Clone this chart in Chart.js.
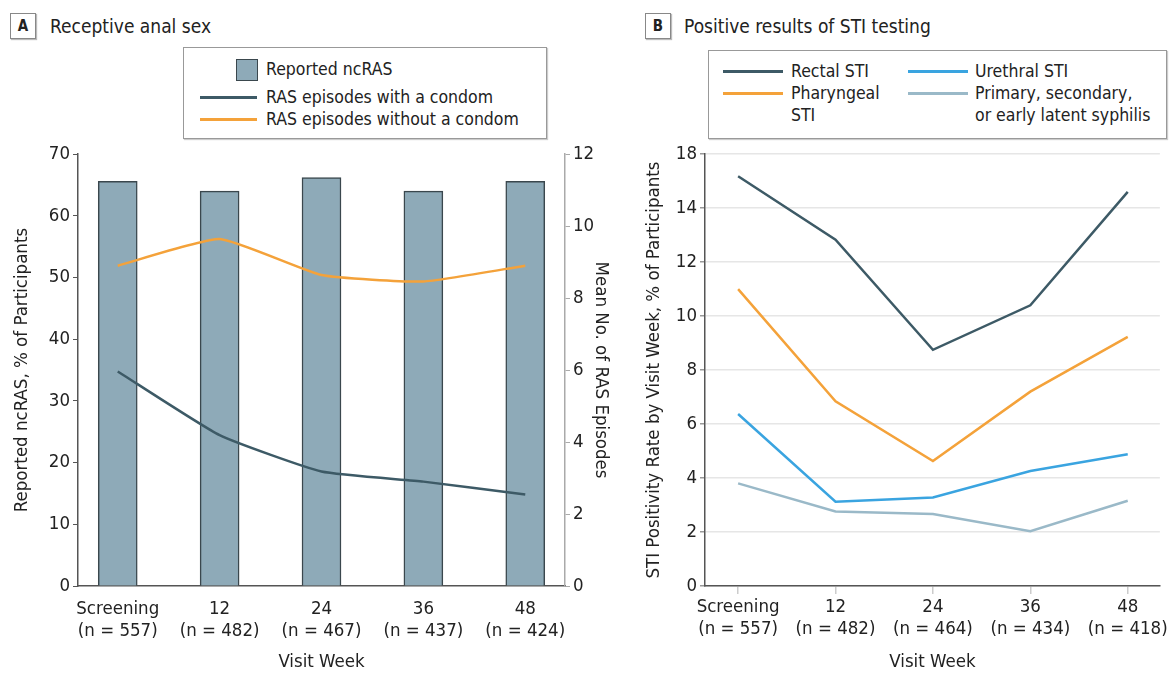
<!DOCTYPE html>
<html>
<head>
<meta charset="utf-8">
<script src="https://cdn.jsdelivr.net/npm/chart.js"></script>
<style>
  body { margin: 0; background: #fff; width: 1170px; height: 675px; overflow: hidden; position: relative;
         font-family: "Liberation Sans Narrow", "DejaVu Sans Condensed", sans-serif; color: #222; }
  .tag { position: absolute; width: 24px; height: 24px; border: 1px solid #888; box-shadow: 1px 1px 1px #bbb;
         font-weight: bold; font-size: 15px; text-align: center; line-height: 24px; }
  .title { position: absolute; font-size: 19px; line-height: 24px; }
  .legend { position: absolute; border: 1px solid #999; box-shadow: 1px 1px 1px #ccc; font-size: 17.5px; }
  .item { position: absolute; line-height: 22px; white-space: nowrap; }
  .ln { position: absolute; height: 3px; }
  .sw { position: absolute; width: 22px; height: 22px; background: #8eaab8; border: 1.5px solid #3a474d; box-sizing: border-box; }
  canvas { position: absolute; }
</style>
</head>
<body>
<div class="tag" style="left:10px;top:13px;">A</div>
<div class="title" style="left:50px;top:14px;">Receptive anal sex</div>
<div class="legend" style="left:183px;top:47px;width:362px;height:90px;">
  <div class="sw" style="left:52px;top:11px;"></div>
  <div class="item" style="left:82px;top:10px;">Reported ncRAS</div>
  <div class="ln" style="left:16px;top:48px;width:57px;background:#3d5a66;"></div>
  <div class="item" style="left:82px;top:38px;">RAS episodes with a condom</div>
  <div class="ln" style="left:16px;top:70px;width:57px;background:#f4a23a;"></div>
  <div class="item" style="left:82px;top:60px;">RAS episodes without a condom</div>
</div>

<div class="tag" style="left:645px;top:13px;">B</div>
<div class="title" style="left:684px;top:14px;">Positive results of STI testing</div>
<div class="legend" style="left:708px;top:50px;width:457px;height:87px;">
  <div class="ln" style="left:14px;top:19px;width:60px;background:#3d5a66;"></div>
  <div class="item" style="left:82px;top:9px;">Rectal STI</div>
  <div class="ln" style="left:14px;top:41px;width:60px;background:#f4a23a;"></div>
  <div class="item" style="left:82px;top:31px;">Pharyngeal<br>STI</div>
  <div class="ln" style="left:199px;top:19px;width:60px;background:#3aa4e0;"></div>
  <div class="item" style="left:266px;top:9px;">Urethral STI</div>
  <div class="ln" style="left:199px;top:41px;width:60px;background:#9ab9c8;"></div>
  <div class="item" style="left:266px;top:31px;">Primary, secondary,<br>or early latent syphilis</div>
</div>

<canvas id="chartA" style="left:8px;top:140px;" width="607" height="535"></canvas>
<canvas id="chartB" style="left:640px;top:140px;" width="530" height="535"></canvas>

<script>
// visit weeks and sample sizes
var weeks = ["Screening", "12", "24", "36", "48"];
var nA = ["(n = 557)", "(n = 482)", "(n = 467)", "(n = 437)", "(n = 424)"];
var nB = ["(n = 557)", "(n = 482)", "(n = 464)", "(n = 434)", "(n = 418)"];

// panel A
var ncRAS = [65.6, 64.0, 66.2, 64.0, 65.6];          // % of participants
var rasWithCondom = [5.96, 4.19, 3.18, 2.9, 2.54];     // mean no. of episodes
var rasWithoutCondom = [8.9, 9.64, 8.64, 8.46, 8.9];

// panel B (% positive)
var rectal = [15.18, 12.83, 8.75, 10.4, 14.6];
var pharyngeal = [11.0, 6.84, 4.63, 7.2, 9.23];
var urethral = [6.37, 3.12, 3.28, 4.26, 4.88];
var syphilis = [3.8, 2.76, 2.67, 2.03, 3.16];
var yLabelsB = ["0", "2", "4", "6", "8", "10", "12", "14", "18"];

var FONT = "'Liberation Sans Narrow', 'DejaVu Sans Condensed', sans-serif";
var INK = "#222";
var TS = 18.5;

function pts(arr) {
    return arr.map(function (v, i) { return { x: i, y: v }; });
}
function fixTicks(scale) {
    scale.ticks = weeks.map(function (w, i) { return { value: i }; });
}

Chart.defaults.font.family = FONT;
Chart.defaults.color = INK;
Chart.defaults.animation = false;

new Chart(document.getElementById("chartA").getContext("2d"), {
    type: "bar",
    data: {
        datasets: [
            {
                type: "line", label: "RAS episodes with a condom", data: pts(rasWithCondom), yAxisID: "y1",
                borderColor: "#3d5a66", borderWidth: 2.5, pointRadius: 0, tension: 0.15, order: 1
            },
            {
                type: "line", label: "RAS episodes without a condom", data: pts(rasWithoutCondom), yAxisID: "y1",
                borderColor: "#f4a23a", borderWidth: 2.5, pointRadius: 0, tension: 0.15, order: 1
            },
            {
                label: "Reported ncRAS", data: pts(ncRAS), yAxisID: "y",
                backgroundColor: "#8eaab8", borderColor: "#3a474d", borderWidth: 1.5, borderSkipped: "bottom",
                barThickness: 39, order: 2
            }
        ]
    },
    options: {
        responsive: false,
        layout: { padding: { top: 11 } },
        plugins: { legend: { display: false }, tooltip: { enabled: false } },
        scales: {
            x: {
                type: "linear", min: -0.39, max: 4.39, offset: false,
                afterBuildTicks: fixTicks,
                afterFit: function (s) { s.height = 89; },
                grid: { display: false },
                border: { display: true, color: "#555", width: 1.5 },
                ticks: {
                    font: { size: TS }, padding: 4, maxRotation: 0, autoSkip: false,
                    callback: function (v) { return [weeks[v], nA[v]]; }
                },
                title: { display: true, text: "Visit Week", font: { size: TS }, padding: { top: 4, bottom: 2 } }
            },
            y: {
                position: "left", min: 0, max: 70,
                afterFit: function (s) { s.width = 70; },
                ticks: { stepSize: 10, font: { size: TS }, padding: 3 },
                grid: { display: true, drawOnChartArea: false, tickLength: 5, color: "#555", lineWidth: 1 },
                border: { display: true, color: "#555", width: 1.5 },
                title: { display: true, text: "Reported ncRAS, % of Participants", font: { size: TS }, padding: { top: 3, bottom: 4 } }
            },
            y1: {
                position: "right", min: 0, max: 12,
                afterFit: function (s) { s.width = 607 - 557; },
                ticks: { stepSize: 2, font: { size: TS }, padding: 3 },
                grid: { display: true, drawOnChartArea: false, tickLength: 5, color: "#aaa", lineWidth: 1 },
                border: { display: true, color: "#aaa", width: 1.5 },
                title: { display: true, text: "Mean No. of RAS Episodes", font: { size: TS }, padding: { top: 3, bottom: 4 } }
            }
        }
    }
});

new Chart(document.getElementById("chartB").getContext("2d"), {
    type: "line",
    data: {
        datasets: [
            { label: "Rectal STI", data: pts(rectal), borderColor: "#3d5a66" },
            { label: "Pharyngeal STI", data: pts(pharyngeal), borderColor: "#f4a23a" },
            { label: "Urethral STI", data: pts(urethral), borderColor: "#3aa4e0" },
            { label: "Primary, secondary, or early latent syphilis", data: pts(syphilis), borderColor: "#9ab9c8" }
        ]
    },
    options: {
        responsive: false,
        layout: { padding: { top: 11, right: 5 } },
        elements: { line: { borderWidth: 2.5, tension: 0 }, point: { radius: 0 } },
        plugins: { legend: { display: false }, tooltip: { enabled: false } },
        scales: {
            x: {
                type: "linear", min: -0.34, max: 4.33,
                afterBuildTicks: fixTicks,
                afterFit: function (s) { s.height = 89; },
                grid: { display: true, drawOnChartArea: false, tickLength: 8, color: "#ccc", lineWidth: 1.5 },
                border: { display: true, color: "#555", width: 1.5 },
                ticks: {
                    font: { size: TS }, padding: 2, maxRotation: 0, autoSkip: false,
                    callback: function (v) { return [weeks[v], nB[v]]; }
                },
                title: { display: true, text: "Visit Week", font: { size: TS }, padding: { top: 4, bottom: 2 } }
            },
            y: {
                min: 0, max: 16,
                afterFit: function (s) { s.width = 65; },
                ticks: {
                    stepSize: 2, font: { size: TS }, padding: 3,
                    callback: function (v, i) { return yLabelsB[i]; }
                },
                grid: { color: "#e6e6e6", lineWidth: 1.5, tickLength: 5, tickColor: "#999" },
                border: { display: true, color: "#555", width: 1.5 },
                title: { display: true, text: "STI Positivity Rate by Visit Week, % of Participants", font: { size: TS }, padding: { top: 3, bottom: 4 } }
            }
        }
    }
});
</script>
</body>
</html>
